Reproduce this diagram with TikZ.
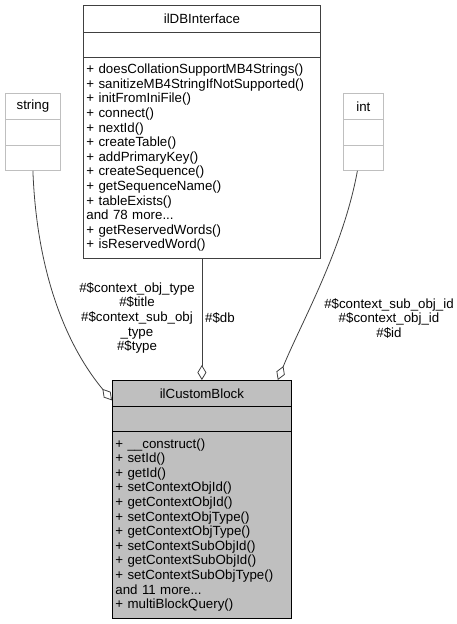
\documentclass[tikz,border=0pt]{standalone}
\usepackage{fontspec}
\setmainfont{Liberation Sans}
\usetikzlibrary{arrows.meta,calc}
\definecolor{edgec}{HTML}{404040}
\definecolor{boxfill}{HTML}{BFBFBF}
\definecolor{lightb}{HTML}{BFBFBF}
\begin{document}
\begin{tikzpicture}[x=1pt,y=-1pt,
  txt/.style={font=\fontsize{13.3}{14.6}\selectfont},
  part/.style={txt, rectangle, inner sep=0pt, anchor=north west, line width=0.8pt},
  dbpart/.style={part, draw=edgec},
  cbpart/.style={part, draw=black, fill=boxfill},
  lpart/.style={part, draw=lightb},
  mlist/.style={align=left, inner xsep=3pt, inner ysep=0pt},
  edge/.style={draw=edgec, line width=0.8pt},
  agg/.style={edge, {Diamond[open, length=15pt, width=9pt]}-},
  lbl/.style={txt, align=center, inner sep=0pt}
]
\useasboundingbox (0,0) rectangle (457,624);

% ilDBInterface
\node[dbpart, minimum width=237pt, minimum height=27pt] (dbt) at (83,5) {ilDBInterface};
\node[dbpart, minimum width=237pt, minimum height=25pt] (dba) at (83,32) {};
\node[dbpart, mlist, text width=231pt, minimum height=201pt] (dbm) at (83,57)
 {+ doesCollationSupportMB4Strings()\\
  + sanitizeMB4StringIfNotSupported()\\
  + initFromIniFile()\\
  + connect()\\
  + nextId()\\
  + createTable()\\
  + addPrimaryKey()\\
  + createSequence()\\
  + getSequenceName()\\
  + tableExists()\\
  and 78 more...\\
  + getReservedWords()\\
  + isReservedWord()};

% string
\node[lpart, minimum width=55pt, minimum height=26pt] (strt) at (5,93) {string};
\node[lpart, minimum width=55pt, minimum height=26pt] (stra) at (5,119) {};
\node[lpart, minimum width=55pt, minimum height=25pt] (strm) at (5,145) {};

% int
\node[lpart, minimum width=40pt, minimum height=26pt] (intt) at (343,93) {int};
\node[lpart, minimum width=40pt, minimum height=26pt] (inta) at (343,119) {};
\node[lpart, minimum width=40pt, minimum height=25pt] (intm) at (343,145) {};

% ilCustomBlock
\node[cbpart, minimum width=179pt, minimum height=26pt] (cbt) at (112,380) {ilCustomBlock};
\node[cbpart, minimum width=179pt, minimum height=25pt] (cba) at (112,406) {};
\node[cbpart, mlist, text width=173pt, minimum height=187pt] (cbm) at (112,431)
 {+ \_\_construct()\\
  + setId()\\
  + getId()\\
  + setContextObjId()\\
  + getContextObjId()\\
  + setContextObjType()\\
  + getContextObjType()\\
  + setContextSubObjId()\\
  + getContextSubObjId()\\
  + setContextSubObjType()\\
  and 11 more...\\
  + multiBlockQuery()};

% labels
\node[lbl] (lstr) at (137,318) {\#\$context\_obj\_type\\\#\$title\\\#\$context\_sub\_obj\\\_type\\\#\$type};
\node[lbl] (ldb) at (220,318) {\#\$db};
\node[lbl] (lint) at (389,318.5) {\#\$context\_sub\_obj\_id\\\#\$context\_obj\_id\\\#\$id};

% connectors
\draw[agg] (cbt.north) -- (dbm.south);
\draw[agg] ($(cbt.west)+(0,7)$) .. controls (70,350) and (37,280) .. (strm.south);
\draw[agg] ($(cbt.north east)+(-14,0)$) .. controls (300,325) and (343,250) .. ($(intm.south)+(-6,0)$);
\end{tikzpicture}
\end{document}
